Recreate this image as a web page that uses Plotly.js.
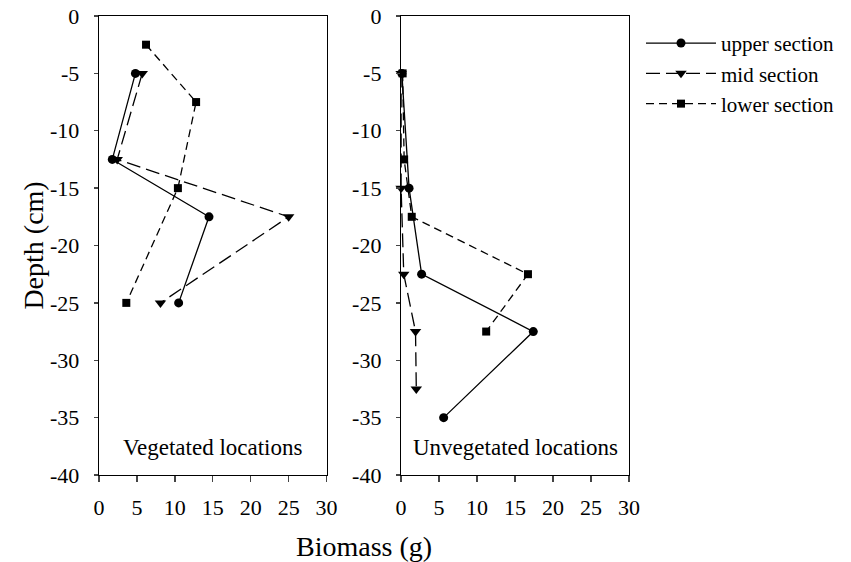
<!DOCTYPE html>
<html>
<head>
<meta charset="utf-8">
<script src="https://cdn.plot.ly/plotly-3.0.1.min.js"></script>
<style>html,body{margin:0;padding:0;background:#fff;}#chart{width:851px;height:562px;}</style>
</head>
<body>
<div id="chart"></div>
<script>
// Vegetated locations
const vegUpperDepth = [-5, -12.5, -17.5, -25];
const vegUpperBiomass = [4.8, 1.75, 14.5, 10.5];
const vegMidDepth = [-5, -12.5, -17.5, -25];
const vegMidBiomass = [5.7, 2.4, 25.0, 8.1];
const vegLowerDepth = [-2.5, -7.5, -15, -25];
const vegLowerBiomass = [6.2, 12.8, 10.4, 3.6];
// Unvegetated locations
const unvUpperDepth = [-5, -15, -22.5, -27.5, -35];
const unvUpperBiomass = [0.1, 1.05, 2.7, 17.4, 5.6];
const unvMidDepth = [-5, -15, -22.5, -27.5, -32.5];
const unvMidBiomass = [0.0, 0.0, 0.35, 1.9, 2.0];
const unvLowerDepth = [-5, -12.5, -17.5, -22.5, -27.5];
const unvLowerBiomass = [0.2, 0.4, 1.4, 16.7, 11.2];

const seriesNames = ['upper section', 'mid section', 'lower section'];
const panelLabels = ['Vegetated locations', 'Unvegetated locations'];
const xTicks = [0, 5, 10, 15, 20, 25, 30];
const yTicks = [0, -5, -10, -15, -20, -25, -30, -35, -40];
const yTickText = ['0', '-5', '-10', '-15', '-20', '-25', '-30', '-35', '-40'];

const FONT = 'Liberation Serif';
const styles = [
  {line: {color: '#000', width: 1.3, dash: 'solid'}, marker: {symbol: 'circle', size: 9, color: '#000'}},
  {line: {color: '#000', width: 1.3, dash: '14px,6px'}, marker: {symbol: 'triangle-down', size: 10, color: '#000'}},
  {line: {color: '#000', width: 1.3, dash: '8px,5px'}, marker: {symbol: 'square', size: 8, color: '#000'}}
];

function tr(x, y, i, ax, show) {
  return {x: x, y: y, name: seriesNames[i], type: 'scatter', mode: 'lines+markers',
    line: styles[i].line, marker: styles[i].marker, xaxis: ax[0], yaxis: ax[1],
    showlegend: show, cliponaxis: false};
}

const data = [
  tr(vegUpperBiomass, vegUpperDepth, 0, ['x', 'y'], true),
  tr(vegMidBiomass, vegMidDepth, 1, ['x', 'y'], true),
  tr(vegLowerBiomass, vegLowerDepth, 2, ['x', 'y'], true),
  tr(unvUpperBiomass, unvUpperDepth, 0, ['x2', 'y2'], false),
  tr(unvMidBiomass, unvMidDepth, 1, ['x2', 'y2'], false),
  tr(unvLowerBiomass, unvLowerDepth, 2, ['x2', 'y2'], false)
];

const xa = {range: [0, 30], tickvals: xTicks, ticks: 'outside', ticklen: 6, tickwidth: 1.3,
  showline: true, linewidth: 1.3, linecolor: '#000', mirror: true, showgrid: false, zeroline: false,
  tickfont: {family: FONT, size: 22, color: '#000'}, ticklabelstandoff: 6, fixedrange: true};
const ya = {range: [-40, 0], tickvals: yTicks, ticktext: yTickText, ticks: 'outside', ticklen: 4, tickwidth: 1.3,
  showline: true, linewidth: 1.3, linecolor: '#000', mirror: true, showgrid: false, zeroline: false,
  tickfont: {family: FONT, size: 22, color: '#000'}, ticklabelstandoff: 10, fixedrange: true};

const layout = {
  width: 851, height: 562,
  margin: {l: 99, r: 221, t: 16, b: 87},
  paper_bgcolor: '#fff', plot_bgcolor: '#fff',
  font: {family: FONT, color: '#000'},
  xaxis: Object.assign({}, xa, {domain: [0, 0.4294], anchor: 'y'}),
  xaxis2: Object.assign({}, xa, {domain: [0.570, 1], anchor: 'y2'}),
  yaxis: Object.assign({}, ya, {anchor: 'x'}),
  yaxis2: Object.assign({}, ya, {anchor: 'x2'}),
  showlegend: true,
  legend: {x: (641 - 99) / 531, y: 0.985, xanchor: 'left', yanchor: 'top', font: {family: FONT, size: 21, color: '#000'},
    bgcolor: 'rgba(0,0,0,0)', itemwidth: 70, borderwidth: 0},
  annotations: [
    {text: panelLabels[0], xref: 'x domain', yref: 'y domain', x: 0.5, y: 0.061, showarrow: false,
      xanchor: 'center', yanchor: 'middle', font: {family: FONT, size: 23, color: '#000'}},
    {text: panelLabels[1], xref: 'x2 domain', yref: 'y2 domain', x: 0.5, y: 0.061, showarrow: false,
      xanchor: 'center', yanchor: 'middle', font: {family: FONT, size: 23, color: '#000'}},
    {text: 'Biomass (g)', xref: 'paper', yref: 'paper', x: 0.5, y: -0.155, showarrow: false,
      xanchor: 'center', yanchor: 'middle', font: {family: FONT, size: 28, color: '#000'}},
    {text: 'Depth (cm)', xref: 'paper', yref: 'paper', x: (33 - 99) / 531, y: 0.5, showarrow: false,
      textangle: -90, xanchor: 'center', yanchor: 'middle', font: {family: FONT, size: 28, color: '#000'}}
  ]
};

Plotly.newPlot('chart', data, layout, {displayModeBar: false, staticPlot: true});
</script>
</body>
</html>
